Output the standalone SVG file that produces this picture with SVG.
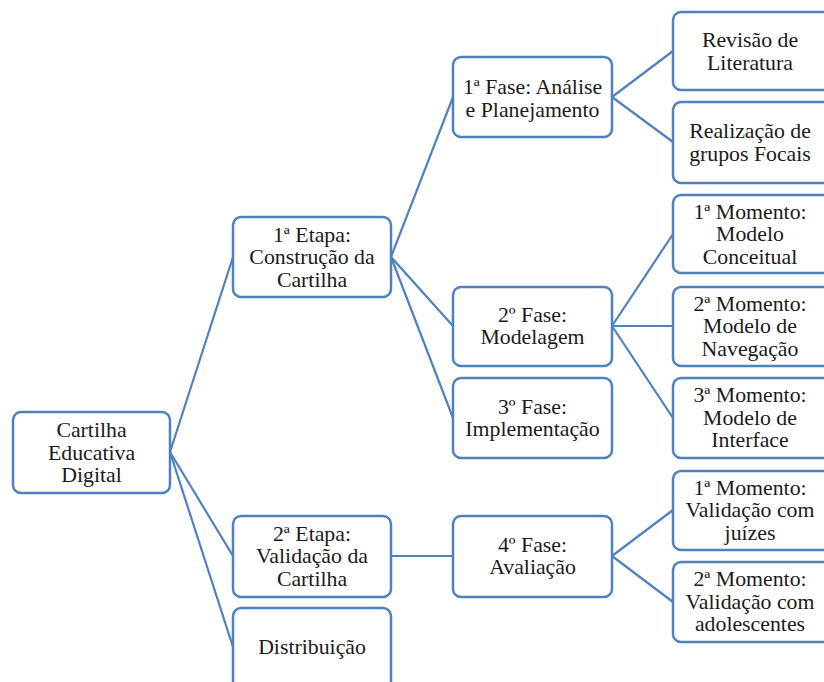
<svg xmlns="http://www.w3.org/2000/svg" width="824" height="682" viewBox="0 0 824 682">
<style>
.box{fill:#fff;stroke:#4f81bd;stroke-width:2.5}
.lbl{font-family:'Liberation Serif','Times New Roman',serif;font-size:21.8px;fill:#1a1a1a;text-anchor:middle}
.con{stroke:#4f81bd;stroke-width:2.2;fill:none}
</style>
<rect width="824" height="682" fill="#fff"/>
<g id="connectors">
<line class="con" x1="170" y1="452" x2="233" y2="257"/>
<line class="con" x1="170" y1="452" x2="233" y2="556"/>
<line class="con" x1="170" y1="452" x2="233" y2="647"/>
<line class="con" x1="391" y1="257" x2="453" y2="97"/>
<line class="con" x1="391" y1="257" x2="453" y2="326"/>
<line class="con" x1="391" y1="257" x2="453" y2="418"/>
<line class="con" x1="612" y1="97" x2="673" y2="51"/>
<line class="con" x1="612" y1="97" x2="673" y2="142"/>
<line class="con" x1="612" y1="326" x2="673" y2="234"/>
<line class="con" x1="612" y1="326" x2="673" y2="326"/>
<line class="con" x1="612" y1="326" x2="673" y2="418"/>
<line class="con" x1="391" y1="556" x2="453" y2="556"/>
<line class="con" x1="612" y1="556" x2="673" y2="510"/>
<line class="con" x1="612" y1="556" x2="673" y2="602"/>
</g>
<g id="root">
<rect class="box" x="13" y="412" width="157" height="81" rx="8"/>
<text class="lbl" x="91.5" y="437">Cartilha</text>
<text class="lbl" x="91.5" y="459.5">Educativa</text>
<text class="lbl" x="91.5" y="482">Digital</text>
</g>
<g id="etapa1">
<rect class="box" x="233" y="217" width="158" height="80" rx="8"/>
<text class="lbl" x="312" y="241.5">1ª Etapa:</text>
<text class="lbl" x="312" y="264">Construção da</text>
<text class="lbl" x="312" y="286.5">Cartilha</text>
</g>
<g id="etapa2">
<rect class="box" x="233" y="516" width="158" height="81" rx="8"/>
<text class="lbl" x="312" y="540.5">2ª Etapa:</text>
<text class="lbl" x="312" y="563">Validação da</text>
<text class="lbl" x="312" y="585.5">Cartilha</text>
</g>
<g id="distribuicao">
<rect class="box" x="233" y="608" width="158" height="82" rx="8"/>
<text class="lbl" x="312" y="654">Distribuição</text>
</g>
<g id="fase1">
<rect class="box" x="453" y="57" width="159" height="80" rx="8"/>
<text class="lbl" x="532.5" y="94">1ª Fase: Análise</text>
<text class="lbl" x="532.5" y="116.5">e Planejamento</text>
</g>
<g id="fase2">
<rect class="box" x="453" y="287" width="159" height="79" rx="8"/>
<text class="lbl" x="532.5" y="322">2º Fase:</text>
<text class="lbl" x="532.5" y="344">Modelagem</text>
</g>
<g id="fase3">
<rect class="box" x="453" y="378" width="159" height="80" rx="8"/>
<text class="lbl" x="532.5" y="413.5">3º Fase:</text>
<text class="lbl" x="532.5" y="436">Implementação</text>
</g>
<g id="fase4">
<rect class="box" x="453" y="516" width="159" height="81" rx="8"/>
<text class="lbl" x="532.5" y="551.5">4º Fase:</text>
<text class="lbl" x="532.5" y="574">Avaliação</text>
</g>
<g id="revisao">
<rect class="box" x="673" y="12" width="160" height="78" rx="8"/>
<text class="lbl" x="750" y="46.5">Revisão de</text>
<text class="lbl" x="750" y="69.5">Literatura</text>
</g>
<g id="grupos">
<rect class="box" x="673" y="102" width="160" height="81" rx="8"/>
<text class="lbl" x="750" y="138">Realização de</text>
<text class="lbl" x="750" y="160.5">grupos Focais</text>
</g>
<g id="momento1">
<rect class="box" x="673" y="195" width="160" height="78" rx="8"/>
<text class="lbl" x="750" y="218.5">1ª Momento:</text>
<text class="lbl" x="750" y="241">Modelo</text>
<text class="lbl" x="750" y="263.5">Conceitual</text>
</g>
<g id="momento2">
<rect class="box" x="673" y="287" width="160" height="79" rx="8"/>
<text class="lbl" x="750" y="310.5">2ª Momento:</text>
<text class="lbl" x="750" y="333">Modelo de</text>
<text class="lbl" x="750" y="355.5">Navegação</text>
</g>
<g id="momento3">
<rect class="box" x="673" y="378" width="160" height="80" rx="8"/>
<text class="lbl" x="750" y="402">3ª Momento:</text>
<text class="lbl" x="750" y="424.5">Modelo de</text>
<text class="lbl" x="750" y="447">Interface</text>
</g>
<g id="validacao1">
<rect class="box" x="673" y="471" width="160" height="79" rx="8"/>
<text class="lbl" x="750" y="494.5">1ª Momento:</text>
<text class="lbl" x="750" y="517">Validação com</text>
<text class="lbl" x="750" y="539.5">juízes</text>
</g>
<g id="validacao2">
<rect class="box" x="673" y="562" width="160" height="80" rx="8"/>
<text class="lbl" x="750" y="586">2ª Momento:</text>
<text class="lbl" x="750" y="608.5">Validação com</text>
<text class="lbl" x="750" y="631">adolescentes</text>
</g>
</svg>
